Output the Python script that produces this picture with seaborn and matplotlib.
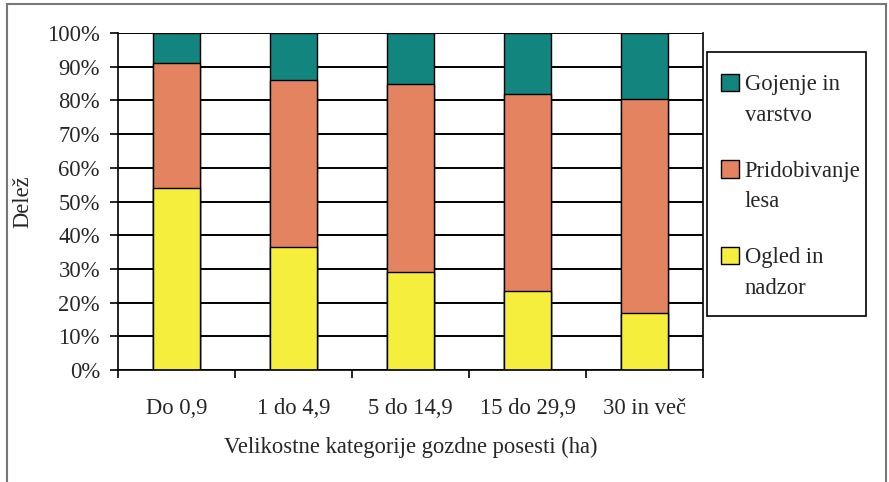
import numpy as np
import pandas as pd
import seaborn as sns
import matplotlib.pyplot as plt
from matplotlib.patches import Rectangle
from matplotlib.legend_handler import HandlerPatch

categories = ['Do 0,9', '1 do 4,9', '5 do 14,9', '15 do 29,9', '30 in več']
ogled = [54, 36.5, 29, 23.5, 17]          # Ogled in nadzor
pridobivanje = [37, 49.5, 56, 58.5, 63.5]  # Pridobivanje lesa
gojenje = [9, 14, 15, 18, 19.5]            # Gojenje in varstvo
series_labels = ['Gojenje in\nvarstvo', 'Pridobivanje\nlesa', 'Ogled in\nnadzor']
colors = ['#12857E', '#E3835F', '#F5EE3C']

df = pd.DataFrame({'kat': categories, 'ogled': ogled,
                   'prid': pridobivanje, 'goj': gojenje})
df['c1'] = df['ogled']
df['c2'] = df['ogled'] + df['prid']
df['c3'] = df['c2'] + df['goj']

sns.set_style('white')
plt.rcParams['font.family'] = ['Liberation Serif', 'DejaVu Serif']
fs = 16.3

W, H = 889, 482
fig = plt.figure(figsize=(W / 100, H / 100), dpi=100)
ax = fig.add_axes([118 / W, 1 - 370 / H, (703 - 118) / W, (370 - 33) / H])

# stacked bars drawn as cumulative layers
for col, c in zip(['c3', 'c2', 'c1'], colors):
    sns.barplot(data=df, x='kat', y=col, color=c, width=0.41, edgecolor='black',
                linewidth=1, saturation=1, ax=ax)

ax.set_ylim(0, 100)
ax.set_xlim(-0.5, 4.5)
ax.set_yticks(np.arange(0, 101, 10))
ax.set_yticklabels([f'{v}%' for v in range(0, 101, 10)], fontsize=fs)
ax.yaxis.grid(True, color='black', linewidth=1.4)
ax.set_axisbelow(True)
for s in ax.spines.values():
    s.set_color('black')
    s.set_linewidth(1.2)
ax.spines['top'].set_visible(False)

ax.set_xticks(range(5))
ax.set_xticklabels(categories, fontsize=fs)
ax.set_xticks(np.arange(-0.5, 5, 1), minor=True)
ax.tick_params(axis='x', which='major', length=0, pad=20)
ax.tick_params(axis='x', which='minor', direction='out', length=6, width=1.2, color='black', bottom=True)
ax.tick_params(axis='y', direction='out', length=6, width=1.2, color='black', left=True, pad=7)

ax.set_xlabel('Velikostne kategorije gozdne posesti (ha)', fontsize=fs, labelpad=13)
ax.set_ylabel('Delež', fontsize=fs, labelpad=10)


# legend square sits next to the first line of the label
def square_first_line(legend, orig_handle, xdescent, ydescent, width, height, fontsize):
    return Rectangle((-xdescent, -ydescent + fontsize * 0.78), width, height)


handles = [Rectangle((0, 0), 1, 1, facecolor=c, edgecolor='black', linewidth=1) for c in colors]
leg = fig.legend(handles, series_labels, loc='upper left', bbox_to_anchor=(707 / W, 1 - 60 / H),
                 frameon=False, fontsize=fs,
                 handlelength=0.8, handleheight=0.8, handletextpad=0.25,
                 labelspacing=1.55, borderpad=0.62, borderaxespad=0,
                 handler_map={Rectangle: HandlerPatch(patch_func=square_first_line)})
for t in leg.get_texts():
    t.set_linespacing(1.6)

# legend frame
fig.patches.append(Rectangle((707 / W, 1 - 316 / H), (866 - 707) / W, (316 - 52) / H,
                             transform=fig.transFigure, fill=False, edgecolor='black', linewidth=1.2))
# outer chart frame
fig.patches.append(Rectangle((7 / W, -0.05), 879 / W, 1.05 - 4 / H, transform=fig.transFigure,
                             fill=False, edgecolor='#777777', linewidth=1.5))

fig.savefig('out.png', dpi=100)
